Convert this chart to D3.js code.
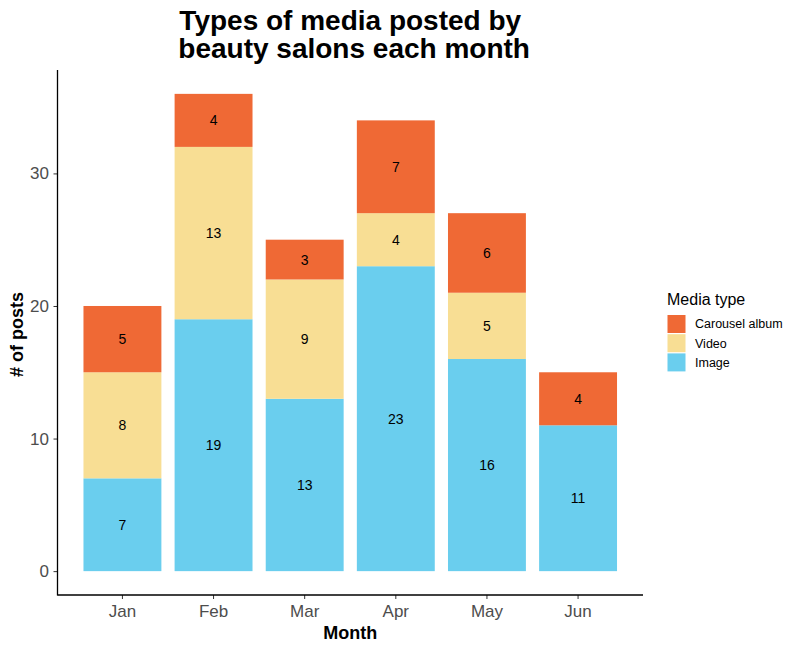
<!DOCTYPE html>
<html><head><meta charset="utf-8">
<script src="https://cdn.jsdelivr.net/npm/d3@7"></script>
<style>body{margin:0;background:#fff;} text{font-family:"Liberation Sans",Arial,sans-serif;}</style>
</head><body><svg id="c" width="800" height="650"></svg>
<script>
const months = ["Jan","Feb","Mar","Apr","May","Jun"];
const mediaTypes = ["Image","Video","Carousel album"];
const imageVals = [7,19,13,23,16,11];
const videoVals = [8,13,9,4,5,0];
const carouselVals = [5,4,3,7,6,4];
const yTicks = [0,10,20,30];
const colors = {"Carousel album":"#EF6935","Video":"#F8DE94","Image":"#6ACEEE"};
const legendOrder = ["Carousel album","Video","Image"];

const rows = months.map((m,i)=>({month:m,"Image":imageVals[i],"Video":videoVals[i],"Carousel album":carouselVals[i]}));
const series = d3.stack().keys(mediaTypes)(rows);

const svg = d3.select("#c");
const L=57.5, R=643, T=70, B=595;
const x = d3.scaleBand().domain(months).range([L,R]).paddingInner(0.145).paddingOuter(0.285);
const maxV = d3.max(rows,d=>d.Image+d.Video+d["Carousel album"]);
const y = d3.scaleLinear().domain([-0.05*maxV, maxV*1.05]).range([B,T]);

const g = svg.append("g");
series.forEach(s=>{
  g.selectAll(null).data(s.filter(d=>d[1]-d[0]>0)).enter().append("rect")
    .attr("x",d=>x(d.data.month)).attr("width",x.bandwidth())
    .attr("y",d=>y(d[1])).attr("height",d=>y(d[0])-y(d[1]))
    .attr("fill",colors[s.key]);
});
series.forEach(s=>{
  g.selectAll(null).data(s.filter(d=>d[1]-d[0]>0)).enter().append("text")
    .attr("x",d=>x(d.data.month)+x.bandwidth()/2).attr("y",d=>y((d[0]+d[1])/2))
    .attr("dy","0.36em").attr("text-anchor","middle").attr("font-size",14).attr("fill","#000")
    .text(d=>d[1]-d[0]);
});

// axes
const yAxis = svg.append("g").attr("transform",`translate(${L},0)`)
  .call(d3.axisLeft(y).tickValues(yTicks).tickSize(4).tickSizeOuter(0).tickPadding(4.5));
const xAxis = svg.append("g").attr("transform",`translate(0,${B})`)
  .call(d3.axisBottom(x).tickSize(4).tickSizeOuter(0).tickPadding(5.5));
[yAxis,xAxis].forEach(a=>{
  a.select(".domain").remove();
  a.selectAll(".tick line").attr("stroke","#333").attr("stroke-width",1);
  a.selectAll(".tick text").attr("fill","#4D4D4D").attr("font-size",17).attr("font-family","Liberation Sans, Arial, sans-serif");
});
svg.append("line").attr("x1",L).attr("x2",L).attr("y1",T).attr("y2",B+0.5).attr("stroke","#000").attr("stroke-width",1.3);
svg.append("line").attr("x1",L).attr("x2",R).attr("y1",B).attr("y2",B).attr("stroke","#000").attr("stroke-width",1.3);

// titles
const cx=(L+R)/2;
svg.append("text").attr("x",cx).attr("y",30).attr("text-anchor","middle").attr("font-size",28).attr("font-weight","bold").text("Types of media posted by");
svg.append("text").attr("x",cx).attr("y",58).attr("text-anchor","middle").attr("font-size",28).attr("font-weight","bold").attr("xml:space","preserve").text(" beauty salons each month");
svg.append("text").attr("x",cx).attr("y",639).attr("text-anchor","middle").attr("font-size",18).attr("font-weight","bold").text("Month");
svg.append("text").attr("transform",`translate(23,${(T+B)/2+2}) rotate(-90)`).attr("text-anchor","middle").attr("font-size",18).attr("font-weight","bold").text("# of posts");

// legend
const lg = svg.append("g").attr("transform","translate(667,0)");
lg.append("text").attr("x",0).attr("y",305).attr("font-size",16).text("Media type");
legendOrder.forEach((k,i)=>{
  lg.append("rect").attr("x",0.5).attr("y",315+i*19.2).attr("width",18).attr("height",18).attr("fill",colors[k]);
  lg.append("text").attr("x",28).attr("y",324+i*19.2).attr("dy","0.35em").attr("font-size",12.5).text(k);
});
</script></body></html>
